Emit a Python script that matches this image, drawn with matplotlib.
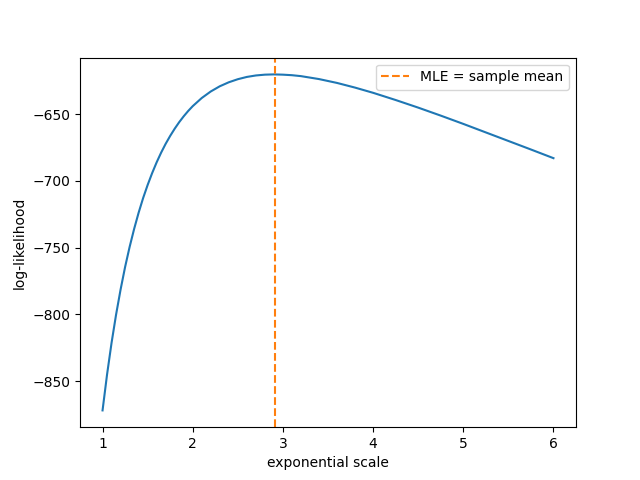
import numpy as np
from matplotlib import pyplot as plt

# values
scale = [1.0, 1.05, 1.1, 1.15, 1.2, 1.25, 1.3, 1.35, 1.4, 1.45, 1.5, 1.55, 1.6,
         1.65, 1.7, 1.75, 1.8, 1.85, 1.9, 1.95, 2.0, 2.1, 2.2, 2.3, 2.4, 2.5,
         2.6, 2.7, 2.8, 2.9, 3.0, 3.1, 3.2, 3.4, 3.6, 3.8, 4.0, 4.25, 4.5,
         4.75, 5.0, 5.25, 5.5, 5.75, 6.0]
loglik = [-872.0, -845.1, -821.3, -800.2, -781.4, -764.5, -749.5, -736.0, -723.8,
          -712.8, -703.0, -694.1, -686.0, -678.7, -672.1, -666.2, -660.8, -655.9,
          -651.5, -647.5, -643.9, -637.8, -632.9, -629.0, -626.0, -623.7, -622.0,
          -620.9, -620.3, -620.1, -620.3, -620.7, -621.4, -623.6, -626.5, -630.0,
          -633.9, -639.3, -645.0, -651.0, -657.2, -663.6, -670.0, -676.4, -682.9]
mle = 2.907

if __name__ == "__main__":
    fig, ax = plt.subplots(figsize=(6.4, 4.8), dpi=100)
    ax.plot(scale, loglik)
    ax.axvline(mle, color='C1', linestyle='--', label='MLE = sample mean')
    ax.set_xlabel('exponential scale')
    ax.set_ylabel('log-likelihood')
    ax.legend()
    fig.savefig('out.png')
